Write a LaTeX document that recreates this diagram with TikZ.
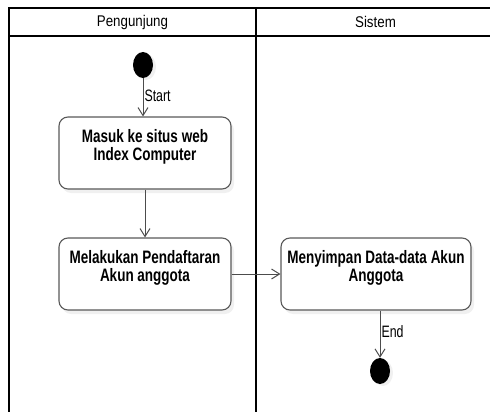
\documentclass[tikz,border=0pt]{standalone}
\usepackage{fontspec}
\setmainfont{Liberation Sans}
\newfontfamily\narrowfont[FakeStretch=0.75]{Liberation Sans}
\newfontfamily\headfont[FakeStretch=0.86]{Liberation Sans}
\usetikzlibrary{arrows.meta,shapes.geometric,shadows}

\tikzset{
  lane/.style={line width=1.8pt},
  laneName/.style={font=\headfont\fontsize{15.5}{17}\selectfont},
  act/.style={draw=black!65, line width=1.1pt, rounded corners=9pt, fill=white,
    minimum height=72pt, inner sep=4pt,
    drop shadow={shadow xshift=3pt, shadow yshift=-4pt, opacity=0.12},
    font=\narrowfont\bfseries\fontsize{18}{18}\selectfont},
  dot/.style={ellipse, fill=black, inner sep=0pt, minimum width=20pt, minimum height=26pt,
    drop shadow={shadow xshift=3pt, shadow yshift=-2pt, opacity=0.12}},
  flow/.style={draw=black!70, line width=1pt, -{Straight Barb[length=8pt,width=10pt]}},
  flowLabel/.style={right, inner sep=1pt, font=\narrowfont\fontsize{16.5}{17}\selectfont}
}
\newcommand{\acttxt}[2]{\parbox[c][64pt][t]{#1}{\centering\rule{0pt}{21pt}#2}}

\begin{document}
\begin{tikzpicture}[x=1pt,y=-1pt]
  \useasboundingbox (0,0) rectangle (490,412);
  % swimlanes
  \draw[lane] (9,413) -- (9,8) -- (491,8);
  \draw[lane] (9,36) -- (491,36);
  \draw[lane] (256,8) -- (256,413);
  \node[laneName] (lanePeng) at (132.5,22) {Pengunjung};
  \node[laneName] (laneSis) at (375.5,22) {Sistem};

  % activities
  \node[dot] (start) at (143,65) {};
  \node[act, minimum width=172pt] (masuk) at (145,153)
    {\acttxt{164pt}{Masuk ke situs web\\Index Computer}};
  \node[act, minimum width=172pt] (daftar) at (145,274)
    {\acttxt{164pt}{Melakukan Pendaftaran\\Akun anggota}};
  \node[act, minimum width=190pt] (simpan) at (376,274)
    {\acttxt{182pt}{Menyimpan Data-data Akun\\Anggota}};
  \node[dot] (end) at (380,371) {};

  % flows
  \draw[flow] (start.south) -- node[flowLabel, pos=0.45] {Start} (start.south |- masuk.north);
  \draw[flow] (masuk) -- (daftar);
  \draw[flow] (daftar) -- (simpan);
  \draw[flow] (simpan.south -| end) -- node[flowLabel, pos=0.45] {End} (end);
\end{tikzpicture}
\end{document}
